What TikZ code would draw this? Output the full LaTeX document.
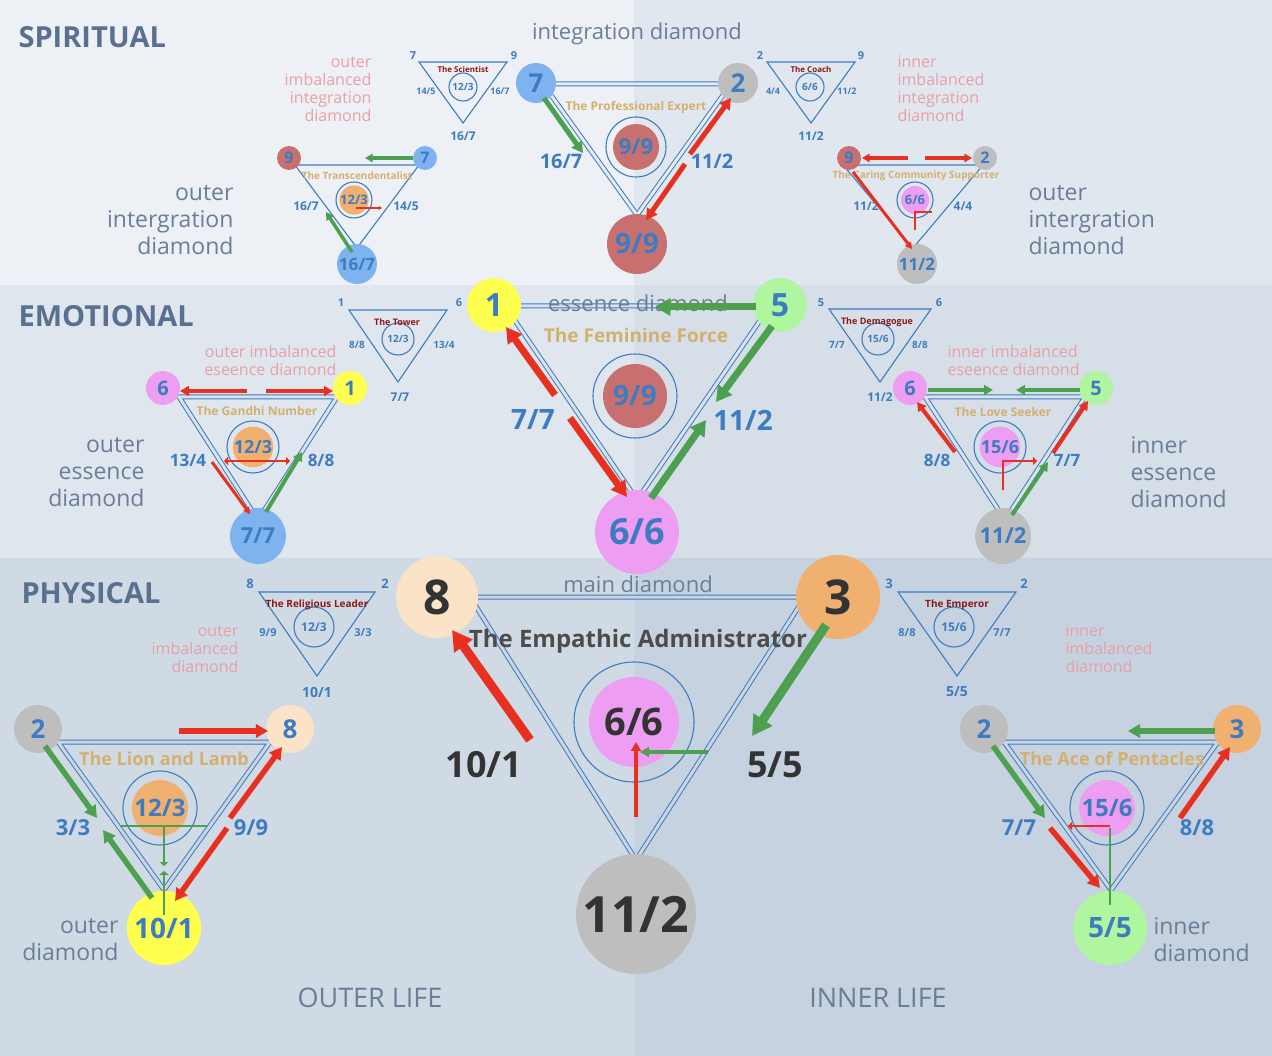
\documentclass[tikz,border=0pt]{standalone}
\usepackage{fontspec}
\setmainfont{Open Sans}
\usetikzlibrary{arrows.meta}
\definecolor{blu}{HTML}{3D7CC0}
\definecolor{rd}{HTML}{E83020}
\definecolor{gr}{HTML}{4CA050}
\definecolor{tan}{HTML}{D4B070}
\definecolor{pk}{HTML}{E8A0A8}
\definecolor{lvl}{HTML}{5A7090}
\definecolor{gtx}{HTML}{6A7E98}
\definecolor{cB}{HTML}{7FB3F0}
\definecolor{cG}{HTML}{BEBEBE}
\definecolor{cR}{HTML}{C87070}
\definecolor{cO}{HTML}{F0B070}
\definecolor{cP}{HTML}{EE9EF2}
\definecolor{cY}{HTML}{FFFF50}
\definecolor{cL}{HTML}{B0F5A0}
\definecolor{cF}{HTML}{FBE3C8}
\definecolor{dk}{HTML}{333333}
\definecolor{drd}{HTML}{8B1A1A}
\definecolor{bgA}{RGB}{230,235,242}
\definecolor{bgB}{RGB}{219,226,235}
\definecolor{bgC}{RGB}{203,214,226}
\newcommand\fs[1]{\fontsize{#1}{#1}\selectfont}
\newcommand\bub[7]{\node[circle,fill=#4,minimum size=#3,inner sep=0,text=#7,font=\bfseries\fs{#6}] (#1) at (#2) {#5};}
\newcommand\tri[4]{\draw[tril] ({#1-#3},#2) -- ({#1+#3},#2) -- (#1,#4) -- cycle;}
\newcommand\ring[3]{\draw[tril] (#1,#2) circle[radius=#3pt];}
\newcommand\lab[4]{\node[text=blu,font=\bfseries\fs{#3}] at (#1,#2) {#4};}
\tikzset{tril/.style={draw=blu,line width=1.1pt},
 dbl/.style={draw=blu,line width=1pt,double=#1,double distance=3pt},
 ar/.style={line width=#1,-{Triangle[length=2.2*#1,width=2.4*#1]}},
 pkt/.style={text=pk,font=\fontsize{16}{18}\selectfont,align=right,anchor=east},
 pkl/.style={text=pk,font=\fontsize{16}{18}\selectfont,align=left,anchor=west},
 gt/.style={text=gtx,font=\fontsize{23}{27}\selectfont,align=right,anchor=east},
 gl/.style={text=gtx,font=\fontsize{23}{27}\selectfont,align=left,anchor=west}}
\begin{document}
\begin{tikzpicture}[x=1pt,y=-1pt]
\useasboundingbox (0,0) rectangle (1272,1056);
\fill[fill={rgb,255:red,237;green,240;blue,245}] (0,0) rectangle (634,285);
\fill[fill={rgb,255:red,225;green,231;blue,239}] (634,0) rectangle (1272,285);
\fill[fill={rgb,255:red,224;green,230;blue,238}] (0,285) rectangle (634,558);
\fill[fill={rgb,255:red,214;green,222;blue,232}] (634,285) rectangle (1272,558);
\fill[fill={rgb,255:red,208;green,218;blue,229}] (0,558) rectangle (634,1056);
\fill[fill={rgb,255:red,198;green,210;blue,223}] (634,558) rectangle (1272,1056);
% level labels
\node[anchor=west,text=lvl,font=\bfseries\fs{29}] (spi) at (15,37) {SPIRITUAL};
\node[anchor=west,text=lvl,font=\bfseries\fs{29}] (emo) at (15,316) {EMOTIONAL};
\node[anchor=west,text=lvl,font=\bfseries\fs{29}] (phy) at (18,593) {PHYSICAL};
\node[text=gtx,font=\fs{27}] (ol) at (370,998) {OUTER LIFE};
\node[text=gtx,font=\fs{27}] (il) at (878,998) {INNER LIFE};
% ===== main diamond
\draw[dbl=bgC] (470,597) -- (805,597) -- (636,860) -- cycle;
\ring{634}{722}{60}
\bub{m6}{634,722}{90}{cP}{6/6}{38}{dk}
\bub{m8}{437,597}{82}{cF}{8}{48}{dk}
\bub{m3}{838,597}{84}{cO}{3}{48}{dk}
\bub{m11}{636,914}{120}{cG}{11/2}{50}{dk}
\node[text=gtx,font=\fs{22}] (mdt) at (638,584) {main diamond};
\node[text=gray!60!black,font=\bfseries\fs{24}] (mdn) at (638,641) {The Empathic Administrator};
\node[text=dk,font=\bfseries\fs{36}] (m101) at (484,765) {10/1};
\node[text=dk,font=\bfseries\fs{36}] (m55) at (775,765) {5/5};
\draw[ar=9pt,rd] (530,740) -- (452,630);
\draw[ar=9pt,gr] (826,625) -- (752,736);
\draw[ar=4pt,rd] (636,817) -- (636,742);
\draw[ar=4pt,gr] (708,752) -- (640,752);
% ===== essence diamond
\draw[dbl=bgB] (505,306) -- (770,306) -- (637,500) -- cycle;
\ring{635}{396}{42}
\bub{e9}{635,396}{64}{cR}{9/9}{28}{blu}
\bub{e6}{637,532}{84}{cP}{6/6}{36}{blu}
\bub{e1}{494,305}{54}{cY}{1}{32}{blu}
\bub{e5}{780,305}{54}{cL}{5}{32}{blu}
\node[text=gtx,font=\fs{22}] (edt) at (638,303) {essence diamond};
\node[text=tan,font=\bfseries\fs{19}] (edn) at (636,335) {The Feminine Force};
\lab{533}{420}{28}{7/7}
\lab{743}{420}{28}{11/2}
\draw[ar=7pt,rd] (555,395) -- (506,327);
\draw[ar=7pt,rd] (570,418) -- (627,497);
\draw[ar=7pt,gr] (651,498) -- (706,420);
\draw[ar=7pt,gr] (772,326) -- (716,402);
\draw[ar=7pt,gr] (756,307) -- (655,307);
% ===== integration diamond
\draw[dbl=bgA] (543,84) -- (731,84) -- (637,215) -- cycle;
\ring{636}{147}{30}
\bub{i9}{636,147}{46}{cR}{9/9}{22}{blu}
\bub{i99}{637,244}{60}{cR}{9/9}{28}{blu}
\bub{i7}{536,83}{40}{cB}{7}{26}{blu}
\bub{i2}{738,83}{40}{cG}{2}{26}{blu}
\node[text=gtx,font=\fs{22}] (idt) at (637,34) {integration diamond};
\node[text=tan,font=\bfseries\fs{12}] (idn) at (636,107) {The Professional Expert};
\lab{561}{161}{20}{16/7}
\lab{712}{161}{20}{11/2}
\draw[ar=5pt,gr] (544,98) -- (583,153);
\draw[ar=5pt,rd] (690,154) -- (731,98);
\draw[ar=5pt,rd] (685,164) -- (646,220);
% ===== outer integration (left)
\tri{357}{165}{62}{248}
\ring{354}{200}{18}
\bub{oi12}{354,200}{28}{cO}{12/3}{13}{blu}
\bub{oi9}{289,158}{24}{cR}{9}{16}{blu}
\bub{oi7}{425,158}{24}{cB}{7}{16}{blu}
\bub{oi16}{357,264}{40}{cB}{16/7}{17}{blu}
\node[text=tan,font=\bfseries\fs{10}] (oin) at (357,176) {The Transcendentalist};
\lab{306}{206}{12}{16/7}
\lab{406}{206}{12}{14/5}
\draw[ar=3.5pt,gr] (413,158) -- (365,158);
\draw[ar=3.5pt,gr] (352,252) -- (326,212);
\draw[ar=1.5pt,rd] (356,208) -- (382,208);
\node[gt] (oit) at (237,220) {outer\\intergration\\diamond};
\node[pkt] (oimt) at (375,89) {outer\\imbalanced\\integration\\diamond};
% ===== inner integration (right)
\tri{913}{165}{70}{248}
\ring{915}{200}{18}
\bub{ii6}{915,200}{28}{cP}{6/6}{13}{blu}
\bub{ii9}{849,158}{24}{cR}{9}{16}{blu}
\bub{ii2}{985,158}{24}{cG}{2}{16}{blu}
\bub{ii11}{917,264}{40}{cG}{11/2}{17}{blu}
\node[text=tan,font=\bfseries\fs{10}] (iin) at (916,176) {The Caring Community Supporter};
\lab{866}{206}{12}{11/2}
\lab{963}{206}{12}{4/4}
\draw[ar=3.5pt,rd] (908,158) -- (862,158);
\draw[ar=3.5pt,rd] (925,158) -- (972,158);
\draw[ar=3pt,rd] (853,172) -- (912,249);
\draw[rd,line width=1.5pt] (915,230) -- (915,212) -- (932,212);
\node[gl] (iit) at (1025,220) {outer\\intergration\\diamond};
\node[pkl] (iimt) at (894,89) {inner\\imbalanced\\integration\\diamond};
% ===== small triangles
\tri{463}{62}{44}{123}
\ring{463}{87}{14}
\node[text=blu,font=\bfseries\fs{10}] at (463,87) {12/3};
\node[text=drd,font=\bfseries\fs{8}] (sci) at (463,70) {The Scientist};
\lab{413}{56}{11}{7} \lab{514}{56}{11}{9} \lab{426}{91}{9}{14/5} \lab{500}{91}{9}{16/7} \lab{463}{136}{12}{16/7}
\tri{811}{62}{44}{123}
\ring{810}{87}{14}
\node[text=blu,font=\bfseries\fs{10}] at (810,87) {6/6};
\node[text=drd,font=\bfseries\fs{8}] (coa) at (811,70) {The Coach};
\lab{760}{56}{11}{2} \lab{861}{56}{11}{9} \lab{773}{91}{9}{4/4} \lab{847}{91}{9}{11/2} \lab{811}{136}{12}{11/2}
\tri{398}{310}{49}{382}
\ring{398}{339}{16}
\node[text=blu,font=\bfseries\fs{10}] at (398,339) {12/3};
\node[text=drd,font=\bfseries\fs{9}] (tow) at (397,322) {The Tower};
\lab{341}{303}{11}{1} \lab{459}{303}{11}{6} \lab{357}{345}{10}{8/8} \lab{444}{345}{10}{13/4} \lab{400}{397}{12}{7/7}
\tri{880}{309}{51}{382}
\ring{878}{339}{16}
\node[text=blu,font=\bfseries\fs{10}] at (878,339) {15/6};
\node[text=drd,font=\bfseries\fs{9}] (dem) at (877,322) {The Demagogue};
\lab{821}{303}{11}{5} \lab{939}{303}{11}{6} \lab{837}{345}{10}{7/7} \lab{920}{345}{10}{8/8} \lab{880}{397}{12}{11/2}
\tri{317}{592}{58}{676}
\ring{314}{627}{20}
\node[text=blu,font=\bfseries\fs{12}] at (314,627) {12/3};
\node[text=drd,font=\bfseries\fs{10}] (rel) at (317,605) {The Religious Leader};
\lab{250}{584}{13}{8} \lab{385}{584}{13}{2} \lab{268}{633}{11}{9/9} \lab{363}{633}{11}{3/3} \lab{317}{692}{14}{10/1}
\tri{957}{592}{59}{676}
\ring{954}{627}{20}
\node[text=blu,font=\bfseries\fs{12}] at (954,627) {15/6};
\node[text=drd,font=\bfseries\fs{10}] (emp) at (957,605) {The Emperor};
\lab{889}{584}{13}{3} \lab{1024}{584}{13}{2} \lab{907}{633}{11}{8/8} \lab{1002}{633}{11}{7/7} \lab{957}{692}{14}{5/5}
% ===== outer essence
\draw[dbl=bgB] (179,397) -- (337,397) -- (258,520) -- cycle;
\ring{253}{447}{26}
\bub{oe12}{253,447}{38}{cO}{12/3}{18}{blu}
\bub{oe6}{163,388}{34}{cP}{6}{20}{blu}
\bub{oe1}{350,388}{34}{cY}{1}{20}{blu}
\bub{oe7}{258,536}{56}{cB}{7/7}{22}{blu}
\node[text=tan,font=\bfseries\fs{12}] (oen) at (257,411) {The Gandhi Number};
\lab{188}{460}{17}{13/4} \lab{321}{460}{17}{8/8}
\draw[ar=4pt,rd] (247,391) -- (180,391);
\draw[ar=4pt,rd] (266,391) -- (333,391);
\draw[ar=3pt,rd] (212,462) -- (250,514);
\draw[ar=4pt,gr] (266,512) -- (302,452);
\draw[rd,line width=1.5pt,{Triangle[length=4pt]}-{Triangle[length=4pt]}] (224,461) -- (290,461);
\node[gt] (oet) at (148,472) {outer\\essence\\diamond};
\node[pkt] (oemt) at (340,361) {outer imbalanced\\eseence diamond};
% ===== inner essence
\draw[dbl=bgB] (925,397) -- (1085,397) -- (1005,520) -- cycle;
\ring{1000}{447}{26}
\bub{ie15}{1000,447}{38}{cP}{15/6}{18}{blu}
\bub{ie6}{910,388}{34}{cP}{6}{20}{blu}
\bub{ie5}{1096,388}{34}{cL}{5}{20}{blu}
\bub{ie11}{1003,536}{56}{cG}{11/2}{22}{blu}
\node[text=tan,font=\bfseries\fs{12}] (ien) at (1003,412) {The Love Seeker};
\lab{937}{460}{17}{8/8} \lab{1067}{460}{17}{7/7}
\draw[ar=4pt,gr] (928,390) -- (993,390);
\draw[ar=4pt,gr] (1080,390) -- (1016,390);
\draw[ar=4pt,rd] (955,452) -- (917,402);
\draw[ar=4pt,rd] (1053,453) -- (1088,401);
\draw[ar=4pt,gr] (1012,515) -- (1048,462);
\draw[rd,line width=1.5pt,-{Triangle[length=4pt]}] (1003,490) -- (1003,461) -- (1037,461);
\node[gl] (iet) at (1127,472) {inner\\essence\\diamond};
\node[pkl] (iemt) at (944,361) {inner imbalanced\\eseence diamond};
% ===== lion and lamb
\draw[dbl=bgC] (58,742) -- (270,742) -- (164,890) -- cycle;
\ring{160}{808}{37}
\bub{ll12}{160,808}{56}{cO}{12/3}{24}{blu}
\bub{ll2}{38,729}{48}{cG}{2}{26}{blu}
\bub{ll8}{290,729}{48}{cF}{8}{26}{blu}
\bub{ll10}{164,928}{74}{cY}{10/1}{28}{blu}
\node[text=tan,font=\bfseries\fs{18}] (lln) at (164,759) {The Lion and Lamb};
\lab{73}{828}{22}{3/3} \lab{251}{828}{22}{9/9}
\draw[ar=5.5pt,gr] (45,746) -- (97,818);
\draw[ar=5.5pt,gr] (152,898) -- (103,830);
\draw[ar=5.5pt,rd] (179,731) -- (268,731);
\draw[ar=5.5pt,rd] (230,818) -- (282,747);
\draw[ar=5.5pt,rd] (227,828) -- (175,901);
\draw[gr,line width=2pt] (120,826) -- (208,826);
\draw[gr,line width=1.5pt,-{Triangle[length=4pt]}] (164,826) -- (164,866);
\draw[gr,line width=2pt,-{Triangle[length=4pt]}] (164,915) -- (164,871);
\node[gt] (llt) at (122,940) {outer\\diamond};
\node[pkt] (llmt) at (242,649) {outer\\imbalanced\\diamond};
% ===== ace of pentacles
\draw[dbl=bgC] (1004,742) -- (1218,742) -- (1111,890) -- cycle;
\ring{1107}{808}{37}
\bub{ap15}{1107,808}{56}{cP}{15/6}{24}{blu}
\bub{ap2}{984,729}{48}{cG}{2}{26}{blu}
\bub{ap3}{1237,729}{48}{cO}{3}{26}{blu}
\bub{ap5}{1110,928}{74}{cL}{5/5}{28}{blu}
\node[text=tan,font=\bfseries\fs{18}] (apn) at (1112,759) {The Ace of Pentacles};
\lab{1019}{828}{22}{7/7} \lab{1197}{828}{22}{8/8}
\draw[ar=5.5pt,gr] (1215,731) -- (1128,731);
\draw[ar=5.5pt,gr] (993,746) -- (1045,818);
\draw[ar=5.5pt,rd] (1050,828) -- (1100,888);
\draw[ar=5.5pt,rd] (1180,818) -- (1230,747);
\draw[gr,line width=2pt] (1110,905) -- (1110,828);
\draw[rd,line width=1.5pt,-{Triangle[length=4pt]}] (1110,826) -- (1068,826);
\node[gl] (apt) at (1150,940) {inner\\diamond};
\node[pkl] (apmt) at (1062,649) {inner\\imbalanced\\diamond};
\end{tikzpicture}
\end{document}
